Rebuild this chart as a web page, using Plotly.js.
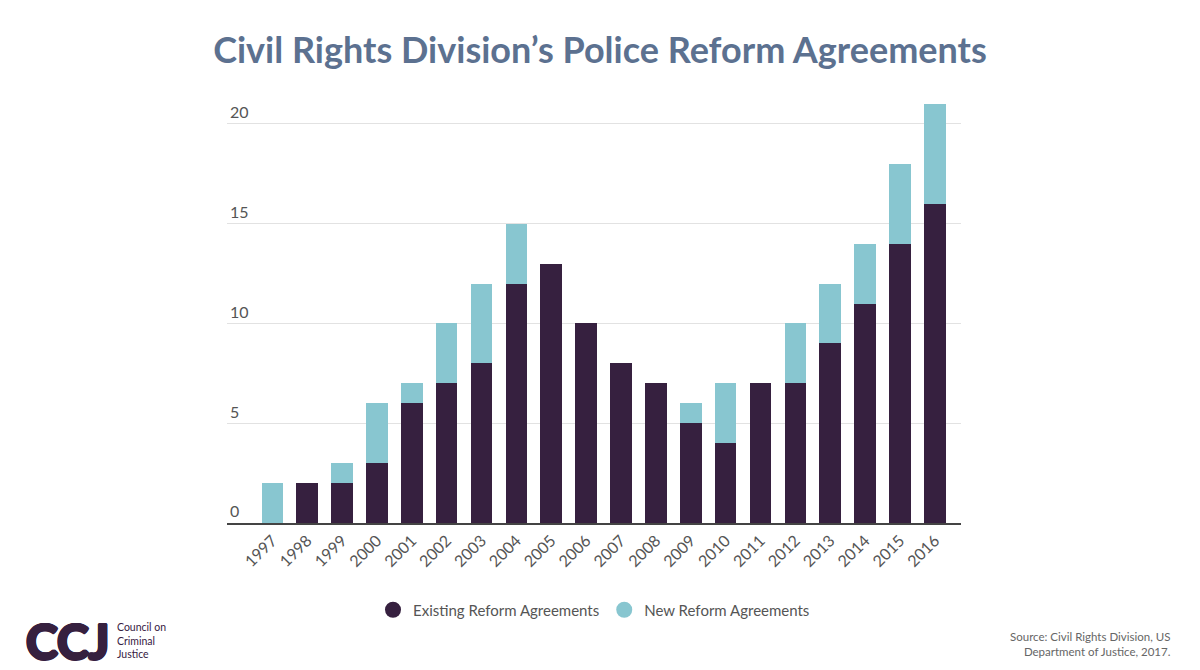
<!DOCTYPE html>
<html>
<head>
<meta charset="utf-8">
<script src="https://cdn.plot.ly/plotly-3.0.1.min.js"></script>
<style>html,body{margin:0;padding:0;background:#fff;}#chart{width:1200px;height:670px;}</style>
</head>
<body>
<div id="chart"></div>
<script>
const years = ['1997','1998','1999','2000','2001','2002','2003','2004','2005','2006','2007','2008','2009','2010','2011','2012','2013','2014','2015','2016'];
const existing = [0,2,2,3,6,7,8,12,13,10,8,7,5,4,7,7,9,11,14,16];
const newAgreements = [2,0,1,3,1,3,4,3,0,0,0,0,1,3,0,3,3,3,4,5];
const yTicks = [0,5,10,15,20];

const darkColor = '#36203f';
const lightColor = '#88c6d0';

const traces = [
  {type:'bar', x:years, y:existing, marker:{color:darkColor}, showlegend:false, hoverinfo:'x+y', name:'Existing Reform Agreements'},
  {type:'bar', x:years, y:newAgreements, marker:{color:lightColor}, showlegend:false, hoverinfo:'x+y', name:'New Reform Agreements'},
  {type:'scatter', mode:'markers', x:[years[0]], y:[null], marker:{color:darkColor, size:18, symbol:'circle'}, name:'Existing Reform Agreements'},
  {type:'scatter', mode:'markers', x:[years[0]], y:[null], marker:{color:lightColor, size:18, symbol:'circle'}, name:'New Reform Agreements'}
];

const pxTop = 523 - 22*19.95;
const H = 523 - pxTop;
const thick = '1.5px 0 0 #36203f, -1.5px 0 0 #36203f, 0 1.5px 0 #36203f, 0 -1.5px 0 #36203f, 1px 1px 0 #36203f, -1px -1px 0 #36203f, 1px -1px 0 #36203f, -1px 1px 0 #36203f';

const layout = {
  width:1200, height:670,
  margin:{l:227, r:239, t:pxTop, b:147},
  paper_bgcolor:'#fff', plot_bgcolor:'#fff',
  barmode:'stack', bargap:0.38,
  font:{family:'Lato, sans-serif', color:'#555'},
  title:{text:'<b>Civil Rights Division’s Police Reform Agreements</b>', font:{family:'Lato, sans-serif', size:36, color:'#5c7190'}, x:0.5, xanchor:'center', y:0.925, yanchor:'middle'},
  xaxis:{type:'category', range:[-1.3,19.75], tickangle:-45, tickfont:{size:16, color:'#555'}, showline:true, linecolor:'#444', linewidth:2, ticks:'', showgrid:false, fixedrange:true},
  yaxis:{range:[0,22], tickvals:yTicks, ticktext:yTicks.map(String), ticklabelposition:'inside top', tickfont:{size:16, color:'#555'}, showgrid:true, gridcolor:'#e2e2e2', gridwidth:1, zeroline:false, showline:false, ticks:'', fixedrange:true},
  legend:{orientation:'h', traceorder:'normal', x:0.5, xanchor:'center', y:(523-610)/H, yanchor:'middle', font:{size:15, color:'#555'}, itemsizing:'trace'},
  annotations:[
    {text:'<b>CCJ</b>', xref:'paper', yref:'paper', x:(24-227)/734, y:(523-640)/H, xanchor:'left', yanchor:'middle', showarrow:false, font:{family:'Lato, sans-serif', size:48, weight:900, color:'#36203f', shadow:thick}},
    {text:'Council on<br>Criminal<br>Justice', xref:'paper', yref:'paper', x:(115-227)/734, y:(523-640)/H, xanchor:'left', yanchor:'middle', align:'left', showarrow:false, font:{family:'Lato, sans-serif', size:10.5, color:'#36203f'}},
    {text:'Source: Civil Rights Division, US<br>Department of Justice, 2017.', xref:'paper', yref:'paper', x:(1173-227)/734, y:(523-644)/H, xanchor:'right', yanchor:'middle', align:'right', showarrow:false, font:{family:'Lato, sans-serif', size:11.5, color:'#666'}}
  ]
};

Plotly.newPlot('chart', traces, layout, {displayModeBar:false, staticPlot:true});
</script>
</body>
</html>
